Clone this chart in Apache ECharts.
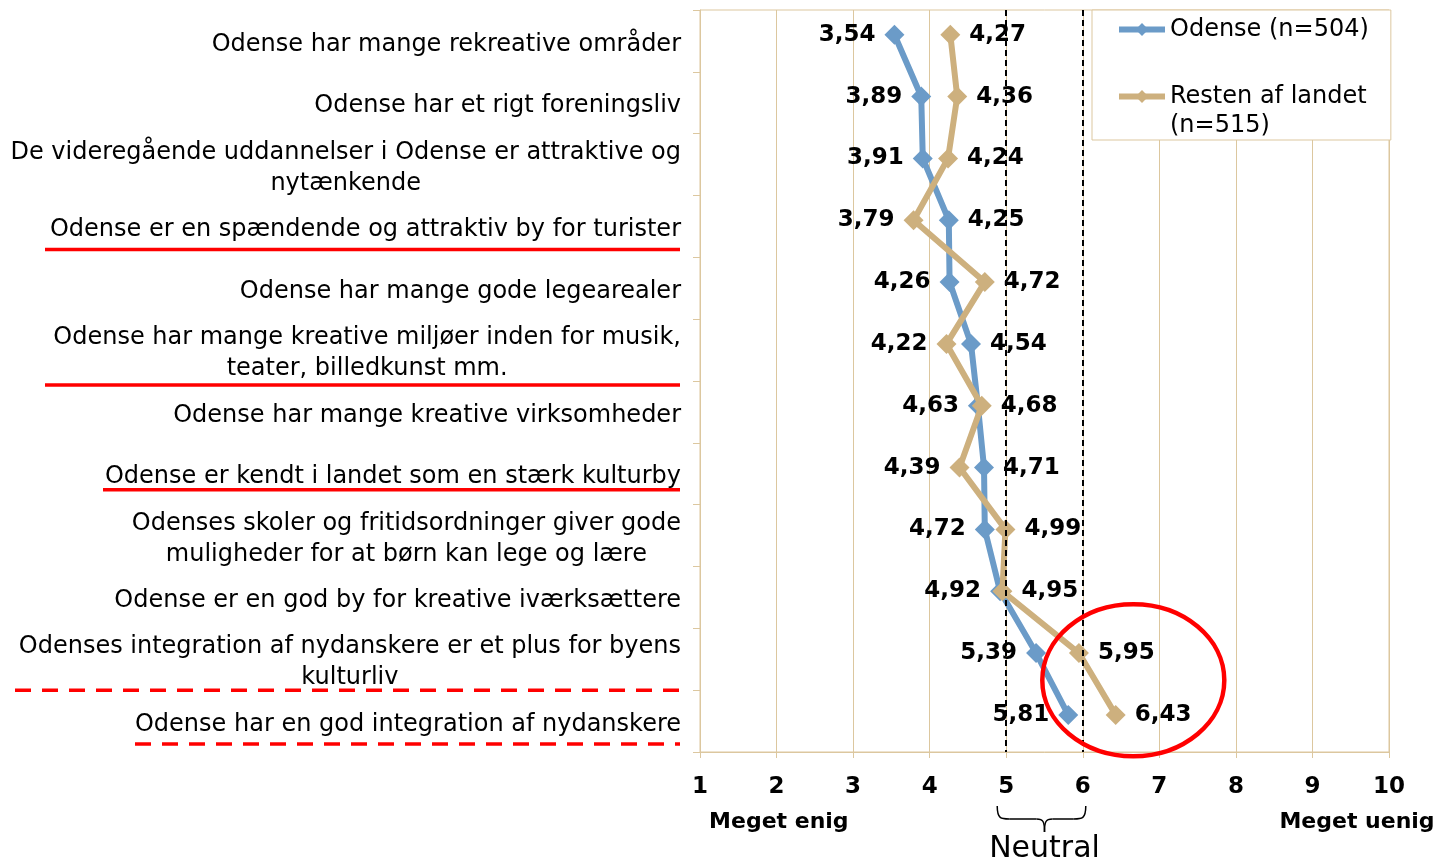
<!DOCTYPE html>
<html>
<head>
<meta charset="utf-8">
<script src="https://cdn.jsdelivr.net/npm/echarts@6/dist/echarts.min.js"></script>
<style>
  html, body { margin: 0; padding: 0; background: #fff; }
  #main { width: 1439px; height: 864px; }
</style>
</head>
<body>
<div id="main"></div>
<script>
// udsagn, top til bund
var categories = [
  "Odense har mange rekreative områder",
  "Odense har et rigt foreningsliv",
  "De videregående uddannelser i Odense er attraktive og\nnytænkende",
  "Odense er en spændende og attraktiv by for turister",
  "Odense har mange gode legearealer",
  "Odense har mange kreative miljøer inden for musik,\nteater, billedkunst mm.",
  "Odense har mange kreative virksomheder",
  "Odense er kendt i landet som en stærk kulturby",
  "Odenses skoler og fritidsordninger giver gode\nmuligheder for at børn kan lege og lære",
  "Odense er en god by for kreative iværksættere",
  "Odenses integration af nydanskere er et plus for byens\nkulturliv",
  "Odense har en god integration af nydanskere"
];
var odense = [3.54, 3.89, 3.91, 4.25, 4.26, 4.54, 4.63, 4.71, 4.72, 4.92, 5.39, 5.81];
var resten = [4.27, 4.36, 4.24, 3.79, 4.72, 4.22, 4.68, 4.39, 4.99, 4.95, 5.95, 6.43];
var seriesNames = ["Odense (n=504)", "Resten af landet (n=515)"];
var neutralRange = [5, 6];

var FONT = "DejaVu Sans";
var TAN = "#dcc79f";
var BLUE = "#6b9bc8";
var GOLD = "#cdb07e";

function fmt(v) { return v.toFixed(2).replace(".", ","); }

// mindste værdi i rækken får label til venstre
function points(vals, other) {
  return vals.map(function (v, i) {
    return {
      value: [v, i],
      label: { position: v < other[i] ? "left" : "right" }
    };
  });
}

var labelStyle = {
  show: true,
  distance: 9,
  fontFamily: FONT,
  fontSize: 23,
  fontWeight: "bold",
  color: "#000",
  formatter: function (p) { return fmt(p.value[0]); }
};

var chart = echarts.init(document.getElementById("main"));
chart.setOption({
  animation: false,
  grid: {
    left: 700, right: 50, top: 10, bottom: 112,
    show: true, borderColor: TAN, borderWidth: 1,
    outerBoundsMode: "none"
  },
  legend: {
    orient: "vertical",
    left: 1092, top: 10,
    backgroundColor: "#fff",
    borderColor: TAN, borderWidth: 1,
    padding: [5, 22, 0, 24],
    itemGap: 9,
    itemWidth: 46, itemHeight: 16,
    lineStyle: { width: 6 },
    textStyle: { fontFamily: FONT, fontSize: 24, lineHeight: 29, color: "#000" },
    data: seriesNames,
    formatter: function (name) {
      return name === seriesNames[1] ? "\nResten af landet\n(n=515)" : name;
    },
    z: 10
  },
  xAxis: {
    type: "value",
    min: 1, max: 10, interval: 1,
    axisLine: { show: true, onZero: false, lineStyle: { color: TAN } },
    axisTick: { show: true, length: 6, lineStyle: { color: TAN } },
    splitLine: { show: true, lineStyle: { color: TAN, width: 1 } },
    axisLabel: { margin: 24, fontFamily: FONT, fontSize: 23, fontWeight: "bold", color: "#000" }
  },
  yAxis: [
    {
      type: "category",
      inverse: true,
      data: categories,
      axisLine: { show: true, lineStyle: { color: TAN } },
      axisTick: { show: true, length: 7, lineStyle: { color: TAN } },
      splitLine: { show: false },
      axisLabel: {
        interval: 0,
        margin: 19,
        padding: [7, 0, 0, 0],
        formatter: function (v) {
          return v.split("\n").map(function (l) { return "{c|" + l + "}"; }).join("\n");
        },
        rich: {
          c: { align: "center", fontFamily: FONT, fontSize: 24, lineHeight: 31, color: "#000" }
        }
      }
    },
    {
      type: "value",
      inverse: true,
      min: -0.4, max: 11.6,
      show: false,
      axisLine: { show: false },
      splitLine: { show: false }
    }
  ],
  series: [
    {
      name: seriesNames[0],
      type: "line",
      yAxisIndex: 1,
      data: points(odense, resten),
      symbol: "diamond",
      symbolSize: 20,
      lineStyle: { color: BLUE, width: 6 },
      itemStyle: { color: BLUE },
      label: labelStyle,
      emphasis: { disabled: true },
      markLine: {
        silent: true,
        symbol: "none",
        label: { show: false },
        lineStyle: { color: "#000", type: [6, 4], width: 2 },
        data: neutralRange.map(function (v) { return { xAxis: v }; })
      },
      z: 3
    },
    {
      name: seriesNames[1],
      type: "line",
      yAxisIndex: 1,
      data: points(resten, odense),
      symbol: "diamond",
      symbolSize: 20,
      lineStyle: { color: GOLD, width: 6 },
      itemStyle: { color: GOLD },
      label: labelStyle,
      emphasis: { disabled: true },
      z: 4
    }
  ]
});

// annoteringer: understregninger, ring, klamme
var x5 = chart.convertToPixel({ xAxisIndex: 0 }, neutralRange[0]);
var x6 = chart.convertToPixel({ xAxisIndex: 0 }, neutralRange[1]);
function rowY(i) { return chart.convertToPixel({ yAxisIndex: 0 }, categories[i]); }

var red = "#ff0000";
function underline(i, off, x1, dashed) {
  var y = rowY(i) + off;
  return {
    type: "line",
    shape: { x1: x1, y1: y, x2: 680, y2: y },
    style: { stroke: red, lineWidth: 3.5, lineDash: dashed ? [16, 11] : null }
  };
}

var midX = (x5 + x6) / 2;
var bTop = 806, bMid = 819, bTip = 832;
var bl = x5 - 9, br = x6 + 3;
var brace = [
  { type: "bezierCurve", shape: { x1: bl, y1: bTop, cpx1: bl, cpy1: bMid, cpx2: bl + 4, cpy2: bMid, x2: bl + 12, y2: bMid } },
  { type: "line", shape: { x1: bl + 12, y1: bMid, x2: midX - 8, y2: bMid } },
  { type: "bezierCurve", shape: { x1: midX - 8, y1: bMid, cpx1: midX - 1, cpy1: bMid, cpx2: midX, cpy2: bMid + 3, x2: midX, y2: bTip } },
  { type: "bezierCurve", shape: { x1: midX, y1: bTip, cpx1: midX, cpy1: bMid + 3, cpx2: midX + 1, cpy2: bMid, x2: midX + 8, y2: bMid } },
  { type: "line", shape: { x1: midX + 8, y1: bMid, x2: br - 12, y2: bMid } },
  { type: "bezierCurve", shape: { x1: br - 12, y1: bMid, cpx1: br - 4, cpy1: bMid, cpx2: br, cpy2: bMid, x2: br, y2: bTop } }
].map(function (e) {
  e.style = { stroke: "#000", lineWidth: 1.5, fill: null };
  return e;
});

chart.setOption({
  graphic: [
    underline(3, 23, 45, false),
    underline(5, 35, 45, false),
    underline(7, 16, 103, false),
    underline(10, 31, 15, true),
    underline(11, 23, 135, true),
    {
      type: "ellipse",
      shape: {
        cx: chart.convertToPixel({ xAxisIndex: 0 }, 6.66),
        cy: rowY(10) + 21,
        rx: 91, ry: 76
      },
      style: { fill: null, stroke: red, lineWidth: 4.5 },
      z: 20
    },
    {
      type: "text",
      x: chart.convertToPixel({ xAxisIndex: 0 }, 2.03), y: 822,
      style: { text: "Meget enig", fontFamily: FONT, fontSize: 22, fontWeight: "bold", fill: "#000", align: "center", verticalAlign: "middle" }
    },
    {
      type: "text",
      x: 1357, y: 822,
      style: { text: "Meget uenig", fontFamily: FONT, fontSize: 22, fontWeight: "bold", fill: "#000", align: "center", verticalAlign: "middle" }
    },
    {
      type: "text",
      x: midX, y: 849,
      style: { text: "Neutral", fontFamily: FONT, fontSize: 30, fill: "#000", align: "center", verticalAlign: "middle" }
    }
  ].concat(brace)
});
</script>
</body>
</html>
